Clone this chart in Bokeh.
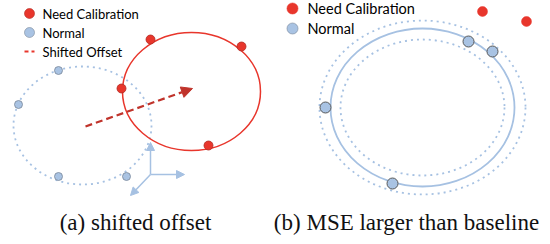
from bokeh.plotting import figure
from bokeh.models import Range1d, Arrow, NormalHead
from bokeh.core.properties import value
from bokeh.embed import file_html
from bokeh.resources import INLINE

# ---- data (diagram coordinates, y grows downward) ----
# panel (a)
a_base_center = [82, 125]; a_base_size = [138, 118]
a_shift_center = [191, 91]; a_shift_size = [138, 118]
a_normal_x = [58, 18, 58, 126]
a_normal_y = [70, 104, 176, 176]
a_calib_x = [150, 241, 121, 208]
a_calib_y = [39, 46, 88, 145]
a_offset_start = [85, 126]; a_offset_end = [192, 88]
a_axes_origin = [150, 174]
a_axes_tips_x = [150, 184, 130]
a_axes_tips_y = [142, 174, 195]
a_legend_labels = ["Need Calibration", "Normal", "Shifted Offset"]
a_legend_y = [13, 32, 51]
# panel (b)
b_center = [422, 107]
b_fit_size = [184, 158]
b_outer_size = [206, 174]
b_inner_size = [164, 136]
b_normal_x = [468, 492, 325, 392]
b_normal_y = [41, 51, 107, 183]
b_calib_x = [482, 526]
b_calib_y = [11, 21]
b_legend_labels = ["Need Calibration", "Normal"]
b_legend_y = [8, 28]
captions = ["(a) shifted offset", "(b) MSE larger than baseline"]
caption_x = [135, 406]
caption_y = [222, 222]

RED = "#e8362c"
RED_EDGE = "#b02a22"
BLUE = "#a9c3e3"
BLUE_LINE = "#a6c1e2"
EDGE = "#5a5a5a"
ARROW_RED = "#c0332b"

p = figure(width=550, height=244, output_backend="svg", toolbar_location=None,
           x_axis_type=None, y_axis_type=None, min_border=0,
           x_range=Range1d(0, 550), y_range=Range1d(244, 0))
p.grid.visible = False
p.outline_line_color = None
p.background_fill_color = "white"
p.border_fill_color = "white"

# ---- panel (a) ----
p.ellipse(x=[a_base_center[0]], y=[a_base_center[1]], width=[a_base_size[0]],
          height=[a_base_size[1]], fill_color=None, line_color=BLUE_LINE,
          line_width=1.8, line_dash="2 4")
p.ellipse(x=[a_shift_center[0]], y=[a_shift_center[1]], width=[a_shift_size[0]],
          height=[a_shift_size[1]], fill_color=None, line_color=RED, line_width=1.5)
p.scatter(x=a_normal_x, y=a_normal_y, size=8, fill_color=BLUE, line_color="#7a8899",
          line_width=0.8)
p.scatter(x=a_calib_x, y=a_calib_y, size=9, fill_color=RED, line_color=RED_EDGE,
          line_width=0.8)
p.add_layout(Arrow(x_start=a_offset_start[0], y_start=a_offset_start[1],
                   x_end=a_offset_end[0], y_end=a_offset_end[1],
                   line_color=ARROW_RED, line_width=2.2, line_dash="7 4",
                   end=NormalHead(size=11, fill_color=ARROW_RED, line_color=ARROW_RED)))
for tx, ty in zip(a_axes_tips_x, a_axes_tips_y):
    p.add_layout(Arrow(x_start=a_axes_origin[0], y_start=a_axes_origin[1],
                       x_end=tx, y_end=ty, line_color=BLUE_LINE, line_width=1.5,
                       end=NormalHead(size=8, fill_color=BLUE_LINE, line_color=BLUE_LINE)))
# legend (a)
p.scatter(x=[29], y=[a_legend_y[0]], size=10, fill_color=RED, line_color=RED_EDGE, line_width=0.6)
p.scatter(x=[29], y=[a_legend_y[1]], size=10, fill_color=BLUE, line_color="#7a8899", line_width=0.6)
p.segment(x0=[24], y0=[a_legend_y[2]], x1=[34], y1=[a_legend_y[2]], line_color=RED,
          line_width=2, line_dash="4 3")
p.text(x=[42, 42, 42], y=a_legend_y, text=a_legend_labels, text_font=value("Lato"),
       text_font_size="13px", text_baseline="middle", text_color="#000000")

# ---- panel (b) ----
for sz in [b_outer_size, b_inner_size]:
    p.ellipse(x=[b_center[0]], y=[b_center[1]], width=[sz[0]], height=[sz[1]],
              fill_color=None, line_color=BLUE_LINE, line_width=1.8, line_dash="2 4")
p.ellipse(x=[b_center[0]], y=[b_center[1]], width=[b_fit_size[0]], height=[b_fit_size[1]],
          fill_color=None, line_color=BLUE_LINE, line_width=1.8)
p.scatter(x=b_normal_x, y=b_normal_y, size=11, fill_color=BLUE, line_color=EDGE,
          line_width=1)
p.scatter(x=b_calib_x, y=b_calib_y, size=10, fill_color=RED, line_color=RED, line_width=0.5)
p.scatter(x=[292, 292], y=b_legend_y, size=11, fill_color=[RED, BLUE],
          line_color=[RED, "#7a8899"], line_width=0.6)
p.text(x=[307, 307], y=b_legend_y, text=b_legend_labels, text_font=value("Lato"),
       text_font_size="14.5px", text_baseline="middle", text_color="#000000")

# captions
p.text(x=caption_x, y=caption_y, text=captions, text_font=value("Liberation Serif"),
       text_font_size="23px", text_align="center", text_baseline="middle",
       text_color="#111111")

open("out.html", "w").write(file_html(p, INLINE))
